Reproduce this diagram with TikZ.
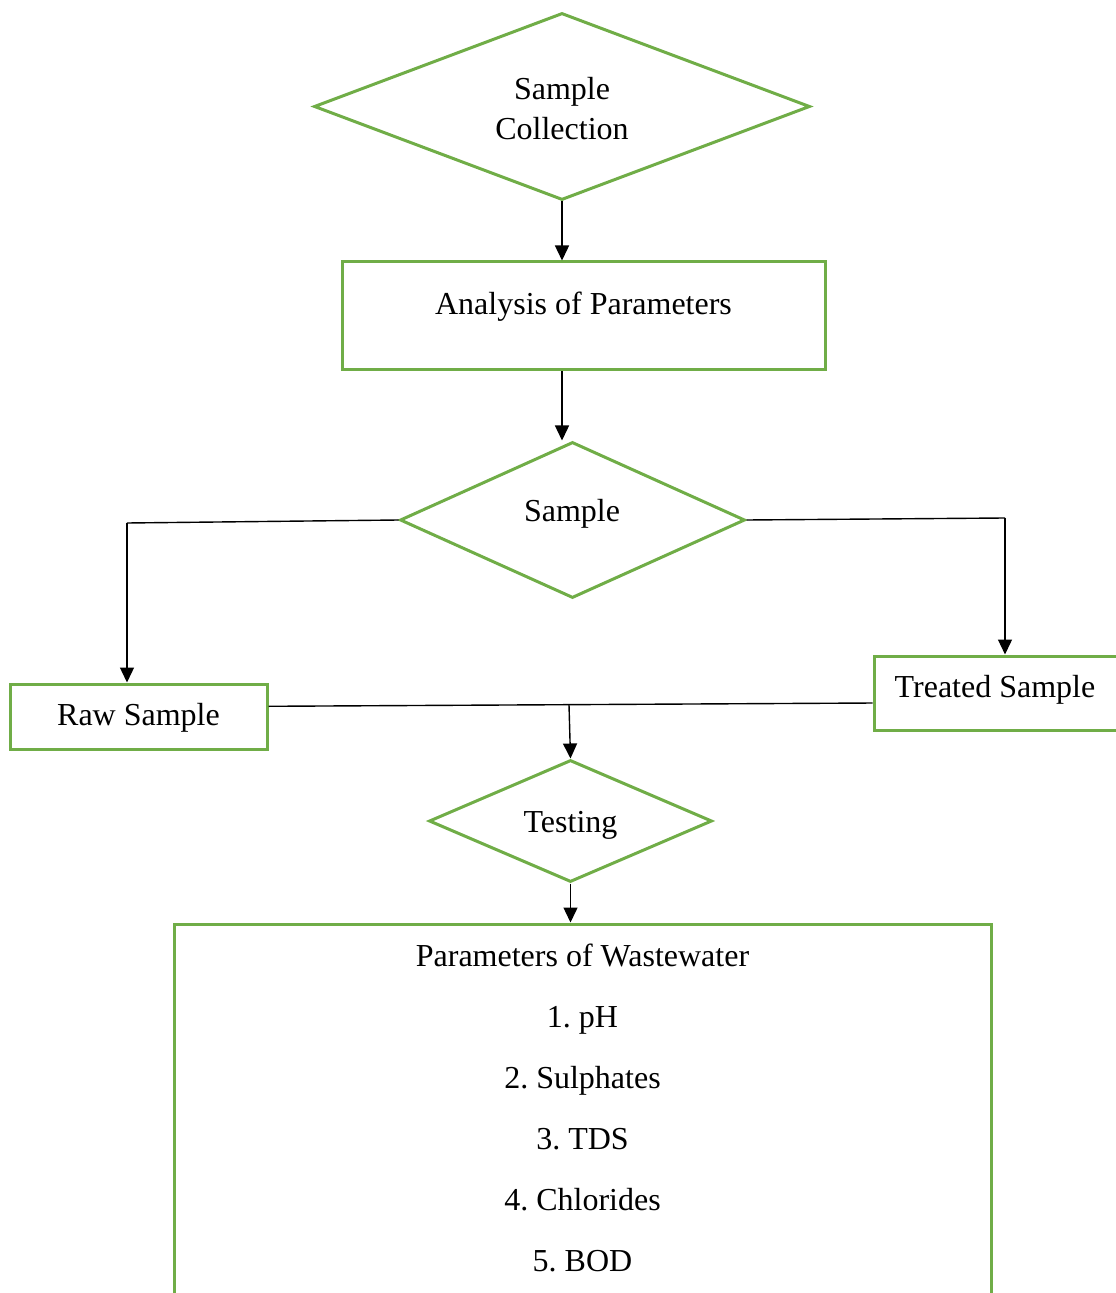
\documentclass[tikz,border=0pt]{standalone}
\usepackage{fontspec}
\setmainfont{Liberation Serif}
\usetikzlibrary{shapes.geometric,arrows.meta,calc}
\definecolor{fgreen}{HTML}{70AD47}
\frenchspacing
\tikzset{
  gbox/.style={draw=fgreen,line width=1.5pt,rectangle,inner sep=0pt},
  gdia/.style={draw=fgreen,line width=1.5pt,diamond,inner sep=0pt},
  lbl/.style={font=\fontsize{16}{20}\selectfont,inner sep=0pt,align=center,anchor=base},
  conn/.style={draw=black,line width=0.7pt},
  arr/.style={conn,-{Triangle[length=7.5pt,width=7pt]}}
}
\begin{document}
\begin{tikzpicture}[x=0.5pt,y=-0.5pt]
\useasboundingbox (0,0) rectangle (1115,1293);
% shapes
\node[gdia,minimum width=248pt,minimum height=93.5pt] (d1) at (562,106.5) {};
\node[lbl] (d1t) at (562,140) {Sample\\Collection};
\node[gbox,minimum width=241.5pt,minimum height=54pt] (b2) at (583.5,316) {};
\node[lbl] (b2t) at (583.5,315) {Analysis of Parameters};
\node[gdia,minimum width=172.5pt,minimum height=78pt] (d2) at (572.5,520) {};
\node[lbl] (d2t) at (572,522) {Sample};
\node[gbox,minimum width=128.5pt,minimum height=32.5pt] (raw) at (138.5,716.5) {};
\node[lbl] (rawt) at (138.5,725) {Raw Sample};
\node[gbox,minimum width=123pt,minimum height=37pt] (trt) at (997,693) {};
\node[lbl] (trtt) at (995,697) {Treated Sample};
\node[gdia,minimum width=141.5pt,minimum height=61pt] (test) at (570.5,821) {};
\node[lbl] (testt) at (570.5,832) {Testing};
\node[gbox,minimum width=408.5pt,minimum height=190pt] (par) at (582.5,1114) {};
\node[lbl] (p0) at (582.5,966) {Parameters of Wastewater};
\node[lbl] (p1) at (582.5,1027) {1. pH};
\node[lbl] (p2) at (582.5,1088) {2. Sulphates};
\node[lbl] (p3) at (582.5,1149) {3. TDS};
\node[lbl] (p4) at (582.5,1210) {4. Chlorides};
\node[lbl] (p5) at (582.5,1271) {5. BOD};
% junction coordinates
\coordinate (cL) at (127,523);
\coordinate (cR) at (1005,518);
\coordinate (jx) at (569,705);
% connectors
\draw[arr] (d1.south) -- (d1.south |- b2.north);
\draw[arr] (b2.south -| d1.south) -- (d1.south |- d2.north);
\draw[conn] (d2.west) -- (cL);
\draw[arr] (cL) -- (cL |- raw.north);
\draw[conn] (d2.east) -- (cR);
\draw[arr] (cR) -- (cR |- trt.north);
\draw[conn] ($(raw.north east)!0.35!(raw.south east)$) -- ($(trt.north west)!0.63!(trt.south west)$);
\draw[arr] (jx) -- (test.north);
\draw[arr] (test.south) -- (test.south |- par.north);
\end{tikzpicture}
\end{document}
